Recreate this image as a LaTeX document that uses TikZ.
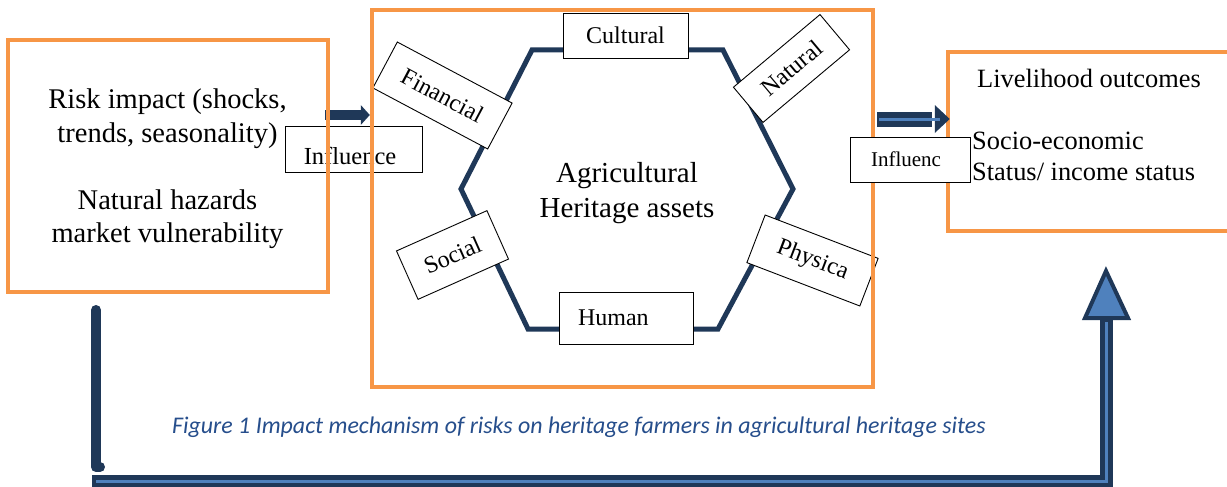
\documentclass[tikz,border=0pt]{standalone}
\usepackage{fontspec}
\setmainfont{Liberation Serif}
\newfontfamily\capfont{Carlito}
\definecolor{frameorange}{RGB}{247,150,70}
\definecolor{navy}{RGB}{31,56,88}
\definecolor{lightblue}{RGB}{79,129,189}
\definecolor{capblue}{RGB}{38,78,140}
\pgfdeclarelayer{under}
\pgfsetlayers{under,main}
\tikzset{
  frame/.style={draw=frameorange, line width=4.5, inner sep=0},
  tag/.style={draw=black, line width=0.9, fill=white, inner sep=0,
    font=\fontsize{24}{28}\selectfont},
  bigtext/.style={inner sep=0, anchor=base, font=\fontsize{28.5}{33}\selectfont},
  midtext/.style={inner sep=0, anchor=base, font=\fontsize{29}{34}\selectfont},
  sidetext/.style={inner sep=0, anchor=base west, font=\fontsize{26.4}{31}\selectfont},
  hexline/.style={draw=navy, line width=5, line join=miter},
}
\begin{document}
\begin{tikzpicture}[x=1pt,y=-1pt]
\useasboundingbox (0,0) rectangle (1227,487);
\clip (0,0) rectangle (1227,487);

% the three framed panels
\node[frame, minimum width=320, minimum height=252] (leftbox) at (168,166) {};
\node[frame, minimum width=501, minimum height=377] (midbox) at (622.5,198.5) {};
\node[frame, minimum width=284, minimum height=179] (rightbox) at (1090,141.5) {};

\begin{pgfonlayer}{under}
  \fill[white] (0,0) rectangle (1227,487);
  % hexagon of assets
  \coordinate (h1) at (532,50);
  \coordinate (h2) at (723,50);
  \coordinate (h3) at (793,189);
  \coordinate (h4) at (718,329);
  \coordinate (h5) at (528,329);
  \coordinate (h6) at (461,189);
  \draw[hexline] (h1) -- (h2) -- (h3) -- (h4) -- (h5) -- (h6) -- cycle;
  % asset labels
  \node[tag, minimum width=130, minimum height=52, rotate=-28] (financial) at (442.5,95.5) {Financial};
  \node[tag, minimum width=113, minimum height=46, rotate=40] (natural) at (791.5,68.5) {Natural};
  \node[tag, minimum width=99, minimum height=53, rotate=24] (social) at (452.5,255) {Social};
  \node[tag, minimum width=121, minimum height=51, rotate=-21] (physica) at (812.5,260.5) {Physica};
  \node[tag, minimum width=125, minimum height=45] (cultural) at (625.5,35.5) {Cultural};
  \node[tag, minimum width=134, minimum height=52, text width=96, align=left] (human) at (626,318) {Human};
  % left influence label
  \node[tag, minimum width=137, minimum height=46] (inflL) at (353.5,149) {};
  \node[inner sep=0, anchor=base, font=\fontsize{24.5}{28}\selectfont] (inflLtext) at (350,164) {Influence};
  % arrow from risks to assets
  \coordinate (arrL) at (0,115);
  \draw[navy, line width=10] ([xshift=-5]leftbox.east |- arrL) -- ([xshift=-8]midbox.west |- arrL);
  \fill[navy] (midbox.west |- arrL) -- ++(-9,-10) -- ++(0,20) -- cycle;
\end{pgfonlayer}

% panel texts
\node[bigtext] (r1) at (167.5,109) {Risk impact (shocks,};
\node[bigtext] (r2) at (167.5,142) {trends, seasonality)};
\node[bigtext] (r3) at (167.5,209) {Natural hazards};
\node[bigtext] (r4) at (167.5,242) {market vulnerability};
\node[midtext] (m1) at (627,182) {Agricultural};
\node[midtext] (m2) at (627,217) {Heritage assets};
\node[sidetext] (o1) at (977,88) {Livelihood outcomes};
\node[sidetext] (o2) at (972,149) {Socio-economic};
\node[sidetext] (o3) at (972,180) {Status/ income status};

% arrow from assets to outcomes
\coordinate (arrR) at (0,119);
\draw[navy, line width=15] ([xshift=2]midbox.east |- arrR) -- ([xshift=-14]rightbox.west |- arrR);
\fill[navy] ([xshift=4]rightbox.west |- arrR) -- ++(-15,-14) -- ++(0,28) -- cycle;
\draw[lightblue, line width=3] ([xshift=4]midbox.east |- arrR) -- ([xshift=-6]rightbox.west |- arrR);

% right influence label
\node[tag, minimum width=120, minimum height=45] (inflR) at (910,159.5) {};
\node[inner sep=0, anchor=base, font=\fontsize{21}{25}\selectfont] (inflRtext) at (906,166) {Influenc};

% feedback loop along the bottom
\coordinate (loopA) at (96,310);
\coordinate (loopB) at (96,467);
\coordinate (loopC) at (92,481);
\coordinate (loopD) at (1106,481);
\coordinate (loopE) at (1106,320);
\coordinate (loopTip) at (1106,271);
\draw[navy, line width=10, line cap=round, line join=round] (loopA) -- (loopB) -- ++(4,0);
\draw[navy, line width=13] (loopC) -- (loopD) -- (loopE);
\draw[lightblue, line width=3] ([xshift=4]loopC) -- (loopD) -- ([yshift=-2]loopE);
\filldraw[fill=lightblue, draw=navy, line width=4, line join=miter]
  (loopTip) -- (1085,318) -- (1128,318) -- cycle;

% caption
\node[inner sep=0, anchor=base west, text=capblue, font=\capfont\itshape\fontsize{23.9}{28}\selectfont] (caption) at (172,433)
  {Figure 1 Impact mechanism of risks on heritage farmers in agricultural heritage sites};
\end{tikzpicture}
\end{document}
